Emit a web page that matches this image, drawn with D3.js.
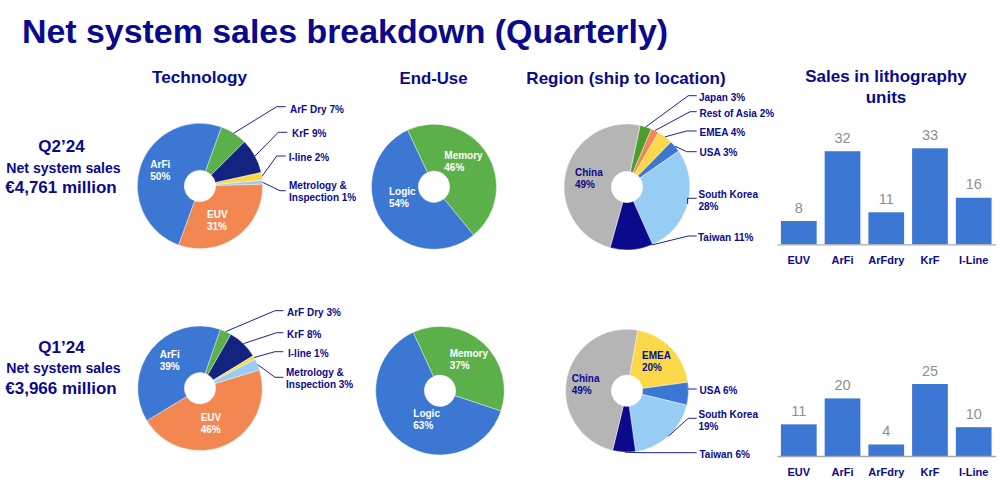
<!DOCTYPE html>
<html>
<head>
<meta charset="utf-8">
<style>
  html, body { margin: 0; padding: 0; background: #fff; }
  svg { display: block; font-family: "Liberation Sans", Arial, sans-serif; }
</style>
<script src="https://cdn.jsdelivr.net/npm/d3@7"></script>
</head>
<body>
<div id="chart-holder"></div>
<script>
// Technology
const techLabels = ["ArF Dry", "KrF", "I-line", "Metrology", "EUV", "ArFi"];
const techQ2 = [7, 9, 2, 1, 31, 50];
const techQ1 = [3, 8, 1, 3, 46, 39];

// End-use
const endUseLabels = ["Memory", "Logic"];
const endUseQ2 = [46, 54];
const endUseQ1 = [37, 63];

// Region
const regionLabelsQ2 = ["Japan", "Rest of Asia", "EMEA", "USA", "South Korea", "Taiwan", "China"];
const regionQ2 = [3, 2, 4, 3, 28, 11, 49];
const regionLabelsQ1 = ["EMEA", "USA", "South Korea", "Taiwan", "China"];
const regionQ1 = [20, 6, 19, 6, 49];

// Lithography units
const unitLabels = ["EUV", "ArFi", "ArFdry", "KrF", "I-Line"];
const unitsQ2 = [8, 32, 11, 33, 16];
const unitsQ1 = [11, 20, 4, 25, 10];

const navy = "#0a0a8c";
const blue = "#3c78d3";
const width = 1000;
const height = 482;
const labelSize = 10;

const techColors = {
  "ArF Dry": "#5cb04a", KrF: "#12247f", "I-line": "#fbd84a",
  Metrology: "#97cdf2", EUV: "#f28752", ArFi: blue
};
const endUseColors = { Memory: "#5cb04a", Logic: blue };
const regionColors = {
  Japan: "#4e9e2e", "Rest of Asia": "#f28752", EMEA: "#fbd84a", USA: blue,
  "South Korea": "#97cdf2", Taiwan: "#0b0a8c", China: "#b5b5b5"
};

const svg = d3
  .select("#chart-holder")
  .append("svg")
  .attr("width", width)
  .attr("height", height);

const addText = (x, y, lines, size, opts = {}) => {
  const t = svg
    .append("text")
    .attr("x", x)
    .attr("y", y)
    .attr("font-size", size)
    .attr("font-weight", opts.weight || "bold")
    .attr("fill", opts.fill || navy)
    .attr("text-anchor", opts.anchor || "start");
  const step = opts.step || 12;
  [].concat(lines).forEach((line, i) => {
    t.append("tspan")
      .attr("x", x)
      .attr("y", y + i * step)
      .attr("dy", ".35em")
      .text(line);
  });
};

// Draws one donut; start is the first slice's clock angle in degrees.
const drawPie = (cx, cy, r, start, labels, values, colors, leaders) => {
  const pie = d3
    .pie()
    .sort(null)
    .startAngle((start * Math.PI) / 180)
    .endAngle((start * Math.PI) / 180 + 2 * Math.PI);
  const arcs = pie(values);
  const arc = d3.arc().innerRadius(15.7).outerRadius(r);
  const g = svg.append("g").attr("transform", `translate(${cx},${cy})`);

  g.selectAll("path")
    .data(arcs)
    .enter()
    .append("path")
    .attr("d", arc)
    .attr("fill", (d, i) => colors[labels[i]])
    .attr("stroke", "#fff")
    .attr("stroke-width", 0.4);

  // Leader lines run from the rim to a text label on the right
  leaders.forEach((l) => {
    const i = labels.indexOf(l.name);
    const d = arcs[i];
    const a = l.angle !== undefined ? (l.angle * Math.PI) / 180 : (d.startAngle + d.endAngle) / 2;
    const from = [cx + r * Math.sin(a), cy - r * Math.cos(a)];
    svg
      .append("path")
      .attr("d", d3.line()([from, l.elbow, [l.endX, l.elbow[1]]]))
      .attr("fill", "none")
      .attr("stroke", "#1f1f96")
      .attr("stroke-width", 1);
    const text = (l.lines || [l.name + " " + values[i] + "%"]);
    addText(l.textX, l.textY, text, labelSize);
  });
};

const drawBars = (baseline, top, maxValue, values) => {
  const x = d3
    .scaleBand()
    .domain(unitLabels)
    .range([777, 995.5])
    .paddingInner(0.183)
    .paddingOuter(0.09);
  const y = d3.scaleLinear().domain([0, maxValue]).range([baseline, top]);

  svg
    .selectAll(null)
    .data(values)
    .enter()
    .append("rect")
    .attr("x", (d, i) => x(unitLabels[i]))
    .attr("y", (d) => y(d))
    .attr("width", x.bandwidth())
    .attr("height", (d) => baseline - y(d))
    .attr("fill", blue);

  svg
    .selectAll(null)
    .data(values)
    .enter()
    .append("text")
    .attr("x", (d, i) => x(unitLabels[i]) + x.bandwidth() / 2)
    .attr("y", (d) => y(d) - 8.5)
    .attr("text-anchor", "middle")
    .attr("font-size", 14.5)
    .attr("fill", "#8f8f8f")
    .text((d) => d);

  const axis = svg
    .append("g")
    .attr("transform", `translate(0,${baseline})`)
    .call(d3.axisBottom(x).tickSize(0).tickPadding(12));
  axis.select(".domain").attr("stroke", "#a8a8a8").attr("stroke-width", 1.3);
  axis
    .selectAll("text")
    .attr("font-family", "Liberation Sans, Arial, sans-serif")
    .attr("font-size", 11)
    .attr("font-weight", "bold")
    .attr("fill", navy);
};

// Titles
addText(22, 31, "Net system sales breakdown (Quarterly)", 33.9);
addText(199.5, 77, "Technology", 17.2, { anchor: "middle" });
addText(433.5, 78, "End-Use", 16.8, { anchor: "middle" });
addText(626, 78, "Region (ship to location)", 17, { anchor: "middle" });
addText(886, 76.5, ["Sales in lithography", "units"], 17, { anchor: "middle", step: 20.5 });

// Quarter captions
addText(61.5, 146, "Q2\u201924", 17, { anchor: "middle" });
addText(63.5, 168, "Net system sales", 14.1, { anchor: "middle" });
addText(61, 187, "\u20ac4,761 million", 17, { anchor: "middle" });
addText(61.5, 347, "Q1\u201924", 17, { anchor: "middle" });
addText(63.5, 368, "Net system sales", 14.1, { anchor: "middle" });
addText(61, 388, "\u20ac3,966 million", 17, { anchor: "middle" });

// Q2 row
drawPie(200, 186, 62.7, 20, techLabels, techQ2, techColors, [
  { name: "ArF Dry", elbow: [276.7, 106.7], endX: 285.7, textX: 290, textY: 109 },
  { name: "KrF", elbow: [278.3, 132.3], endX: 287.3, textX: 292, textY: 133 },
  { name: "I-line", elbow: [276.7, 156], endX: 285.7, textX: 288.7, textY: 157 },
  { name: "Metrology", elbow: [280, 190.7], endX: 285.7, textX: 289, textY: 185.5,
    lines: ["Metrology &", "Inspection 1%"] }
]);
drawPie(434, 186.7, 62.5, -25, endUseLabels, endUseQ2, endUseColors, []);
drawPie(627, 187, 63, 12, regionLabelsQ2, regionQ2, regionColors, [
  { name: "Japan", elbow: [688.3, 95.7], endX: 696.7, textX: 699, textY: 97 },
  { name: "Rest of Asia", elbow: [690, 111.7], endX: 696.7, textX: 699.5, textY: 113.5 },
  { name: "EMEA", elbow: [686.7, 131], endX: 696.7, textX: 699.5, textY: 132 },
  { name: "USA", elbow: [686.7, 151.7], endX: 696.7, textX: 699.5, textY: 152 },
  { name: "South Korea", elbow: [687.5, 198.3], endX: 696.7, textX: 698.5, textY: 194,
    lines: ["South Korea", "28%"] },
  { name: "Taiwan", angle: 157, elbow: [688.3, 236], endX: 696.7, textX: 698, textY: 237.5 }
]);
drawBars(244.3, 148.3, 33, unitsQ2);

// Q1 row
drawPie(200, 388.3, 62.3, 19, techLabels, techQ1, techColors, [
  { name: "ArF Dry", elbow: [275, 310.7], endX: 283.3, textX: 287, textY: 312 },
  { name: "KrF", elbow: [276.7, 332.7], endX: 283.3, textX: 287, textY: 334 },
  { name: "I-line", elbow: [275, 351.7], endX: 283.3, textX: 288, textY: 353 },
  { name: "Metrology", elbow: [275, 377.3], endX: 283.3, textX: 286, textY: 372,
    lines: ["Metrology &", "Inspection 3%"] }
]);
drawPie(440, 390.7, 64.3, -24.7, endUseLabels, endUseQ1, endUseColors, []);
drawPie(627, 390.7, 61.5, 10, regionLabelsQ1, regionQ1, regionColors, [
  { name: "USA", angle: 88.5, elbow: [688.3, 389], endX: 696.7, textX: 699.5, textY: 390.3 },
  { name: "South Korea", elbow: [688.3, 418.3], endX: 696.7, textX: 698.5, textY: 414,
    lines: ["South Korea", "19%"] },
  { name: "Taiwan", angle: 182, elbow: [640, 452.7], endX: 696.7, textX: 699.5, textY: 454 }
]);
drawBars(456, 384, 25, unitsQ1);

// Labels inside the slices
const white = { fill: "#fff" };
addText(150.3, 164.3, ["ArFi", techQ2[5] + "%"], labelSize, white);
addText(207, 214, ["EUV", techQ2[4] + "%"], labelSize, white);
addText(159.7, 354.3, ["ArFi", techQ1[5] + "%"], labelSize, white);
addText(200.7, 417.3, ["EUV", techQ1[4] + "%"], labelSize, white);
addText(444.3, 155.7, ["Memory", endUseQ2[0] + "%"], labelSize, white);
addText(389, 191, ["Logic", endUseQ2[1] + "%"], labelSize, white);
addText(449.7, 353.3, ["Memory", endUseQ1[0] + "%"], labelSize, white);
addText(413.3, 413.3, ["Logic", endUseQ1[1] + "%"], labelSize, white);
addText(575, 172.7, ["China", regionQ2[6] + "%"], labelSize);
addText(571.7, 378.3, ["China", regionQ1[4] + "%"], labelSize);
addText(642, 355.7, ["EMEA", regionQ1[0] + "%"], labelSize);
</script>
</body>
</html>
